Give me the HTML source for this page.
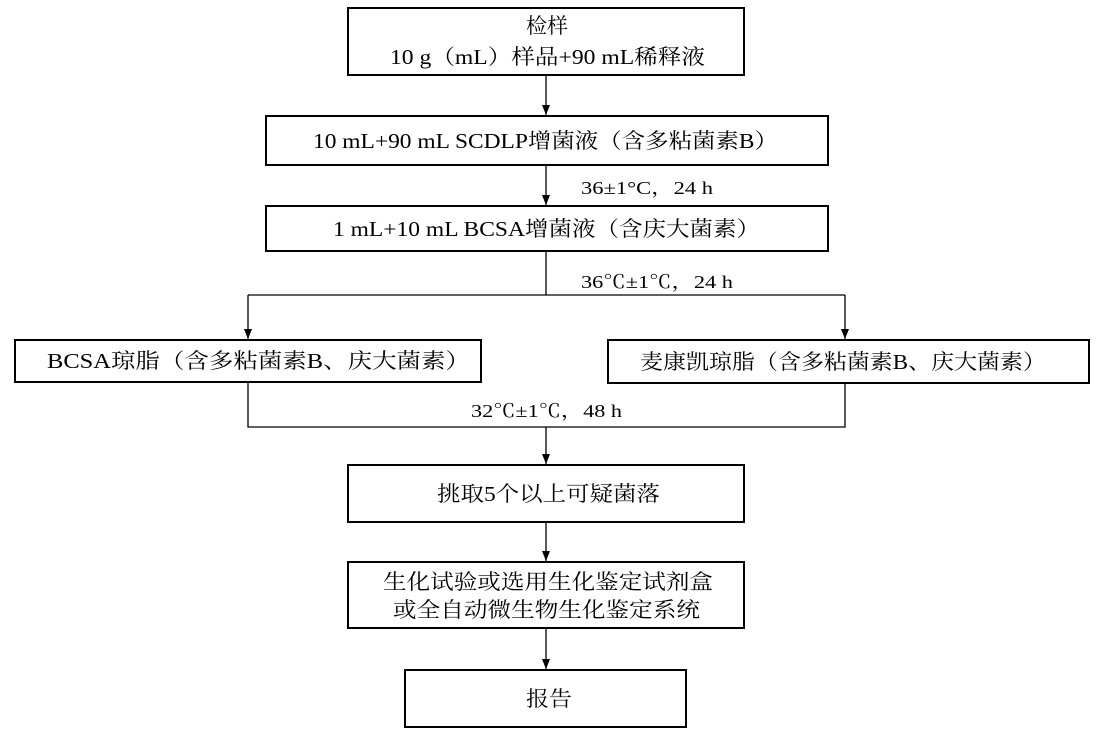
<!DOCTYPE html>
<html><head><meta charset="utf-8"><style>
html,body{margin:0;padding:0;background:#fff;}
svg{display:block;}
text{font-family:"Liberation Serif","Noto Serif CJK SC","Noto Sans CJK SC",serif;fill:#000;}
</style></head><body>
<svg width="1102" height="744" viewBox="0 0 1102 744" xmlns="http://www.w3.org/2000/svg">
<defs><marker id="a" markerWidth="10" markerHeight="10" refX="10" refY="5" orient="auto" markerUnits="userSpaceOnUse"><path d="M0,1 L10,5 L0,9 Z" fill="#000"/></marker></defs>
<g fill="none" stroke="#000" stroke-width="2">
<rect x="348" y="8" width="396" height="67"/>
<rect x="266" y="116" width="562" height="49"/>
<rect x="266" y="206" width="562" height="45"/>
<rect x="15" y="340" width="466" height="42"/>
<rect x="608" y="340" width="481" height="43"/>
<rect x="348" y="465" width="396" height="57"/>
<rect x="348" y="562" width="396" height="66"/>
<rect x="405" y="670" width="281" height="57"/>
</g>
<g stroke="#000" stroke-width="1.3" fill="none">
<line x1="546" y1="75" x2="546" y2="115" marker-end="url(#a)"/>
<line x1="546" y1="165" x2="546" y2="205" marker-end="url(#a)"/>
<line x1="546" y1="251" x2="546" y2="295"/>
<line x1="248" y1="295" x2="845" y2="295"/>
<line x1="248" y1="295" x2="248" y2="339" marker-end="url(#a)"/>
<line x1="845" y1="295" x2="845" y2="339" marker-end="url(#a)"/>
<polyline points="248,382 248,427 845,427 845,383"/>
<line x1="546" y1="427" x2="546" y2="464" marker-end="url(#a)"/>
<line x1="546" y1="522" x2="546" y2="561" marker-end="url(#a)"/>
<line x1="546" y1="628" x2="546" y2="669" marker-end="url(#a)"/>
</g>
<g font-size="21" lengthAdjust="spacingAndGlyphs">
<text x="526" y="33" textLength="42" lengthAdjust="spacingAndGlyphs">检样</text>
<text x="390" y="64" textLength="315" lengthAdjust="spacingAndGlyphs">10 g（mL）样品+90 mL稀释液</text>
<text x="313" y="148" textLength="465" lengthAdjust="spacingAndGlyphs">10 mL+90 mL SCDLP增菌液（含多粘菌素B）</text>
<text x="333" y="236" textLength="427" lengthAdjust="spacingAndGlyphs">1 mL+10 mL BCSA增菌液（含庆大菌素）</text>
<text x="47" y="368" textLength="423" lengthAdjust="spacingAndGlyphs">BCSA琼脂（含多粘菌素B、庆大菌素）</text>
<text x="640" y="369" textLength="406" lengthAdjust="spacingAndGlyphs">麦康凯琼脂（含多粘菌素B、庆大菌素）</text>
<text x="437" y="501" textLength="223" lengthAdjust="spacingAndGlyphs">挑取5个以上可疑菌落</text>
<text x="383" y="589" textLength="330" lengthAdjust="spacingAndGlyphs">生化试验或选用生化鉴定试剂盒</text>
<text x="393" y="617" textLength="307" lengthAdjust="spacingAndGlyphs">或全自动微生物生化鉴定系统</text>
<text x="526" y="706" textLength="46" lengthAdjust="spacingAndGlyphs">报告</text>
</g>
<g font-size="18">
<text x="581" y="194" textLength="132" lengthAdjust="spacingAndGlyphs">36±1°C，24 h</text>
<text x="581" y="288" textLength="152" lengthAdjust="spacingAndGlyphs">36℃±1℃，24 h</text>
<text x="471" y="417" textLength="151" lengthAdjust="spacingAndGlyphs">32℃±1℃，48 h</text>
</g>
</svg>
</body></html>
